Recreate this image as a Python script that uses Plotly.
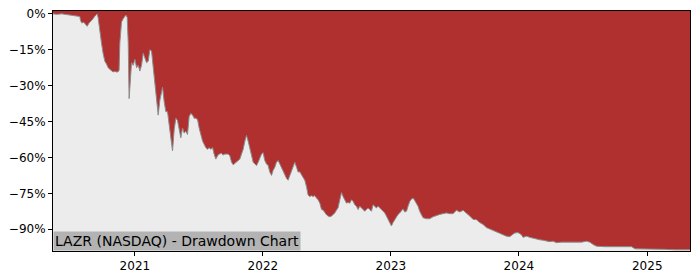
import pandas as pd
import plotly.graph_objects as go

# Time in decimal years, drawdown in percent
t_years = [
    2020.362, 2020.391, 2020.430, 2020.461, 2020.492, 2020.531, 2020.571, 2020.576,
    2020.586, 2020.602, 2020.617, 2020.628, 2020.641, 2020.656, 2020.674, 2020.688,
    2020.706, 2020.713, 2020.721, 2020.731, 2020.740, 2020.752, 2020.766, 2020.779,
    2020.792, 2020.805, 2020.818, 2020.831, 2020.844, 2020.857, 2020.870, 2020.877,
    2020.883, 2020.896, 2020.909, 2020.922, 2020.930, 2020.940, 2020.948, 2020.955,
    2020.965, 2020.974, 2020.987, 2021.000, 2021.013, 2021.026, 2021.039, 2021.052,
    2021.065, 2021.078, 2021.091, 2021.104, 2021.117, 2021.130, 2021.143, 2021.156,
    2021.169, 2021.182, 2021.195, 2021.208, 2021.216, 2021.229, 2021.242, 2021.255,
    2021.268, 2021.281, 2021.294, 2021.307, 2021.320, 2021.333, 2021.346, 2021.359,
    2021.372, 2021.385, 2021.398, 2021.411, 2021.424, 2021.437, 2021.451, 2021.463,
    2021.476, 2021.490, 2021.502, 2021.515, 2021.529, 2021.541, 2021.554, 2021.568,
    2021.580, 2021.593, 2021.607, 2021.619, 2021.632, 2021.646, 2021.658, 2021.677,
    2021.689, 2021.703, 2021.729, 2021.742, 2021.755, 2021.768, 2021.781, 2021.794,
    2021.807, 2021.820, 2021.833, 2021.846, 2021.859, 2021.872, 2021.885, 2021.898,
    2021.911, 2021.924, 2021.937, 2021.950, 2021.963, 2021.976, 2021.989, 2022.002,
    2022.015, 2022.028, 2022.041, 2022.054, 2022.067, 2022.080, 2022.093, 2022.106,
    2022.119, 2022.132, 2022.145, 2022.158, 2022.171, 2022.185, 2022.197, 2022.210,
    2022.224, 2022.236, 2022.249, 2022.263, 2022.275, 2022.288, 2022.302, 2022.314,
    2022.327, 2022.341, 2022.353, 2022.366, 2022.380, 2022.392, 2022.405, 2022.419,
    2022.431, 2022.445, 2022.458, 2022.470, 2022.484, 2022.497, 2022.509, 2022.523,
    2022.536, 2022.548, 2022.562, 2022.575, 2022.587, 2022.601, 2022.614, 2022.626,
    2022.640, 2022.653, 2022.666, 2022.679, 2022.692, 2022.705, 2022.718, 2022.731,
    2022.744, 2022.757, 2022.770, 2022.783, 2022.796, 2022.809, 2022.822, 2022.835,
    2022.848, 2022.861, 2022.874, 2022.887, 2022.900, 2022.913, 2022.926, 2022.939,
    2022.952, 2022.965, 2022.978, 2022.991, 2023.004, 2023.017, 2023.030, 2023.043,
    2023.056, 2023.069, 2023.082, 2023.095, 2023.108, 2023.122, 2023.134, 2023.147,
    2023.161, 2023.173, 2023.186, 2023.200, 2023.212, 2023.225, 2023.239, 2023.251,
    2023.278, 2023.303, 2023.329, 2023.356, 2023.382, 2023.407, 2023.434, 2023.460,
    2023.485, 2023.512, 2023.538, 2023.564, 2023.590, 2023.616, 2023.642, 2023.668,
    2023.694, 2023.720, 2023.746, 2023.772, 2023.798, 2023.824, 2023.850, 2023.876,
    2023.902, 2023.928, 2023.954, 2023.967, 2023.993, 2024.020, 2024.032, 2024.059,
    2024.084, 2024.110, 2024.137, 2024.162, 2024.188, 2024.215, 2024.240, 2024.266,
    2024.293, 2024.332, 2024.371, 2024.410, 2024.449, 2024.488, 2024.527, 2024.553,
    2024.579, 2024.605, 2024.670, 2024.735, 2024.800, 2024.852, 2024.878, 2024.904,
    2024.957, 2025.008, 2025.060, 2025.138, 2025.217, 2025.269, 2025.334,
]

drawdown_pct = [
    0.0, -0.2, 0.0, -0.3, -0.6, -1.0, -1.1, -2.7,
    -3.8, -3.5, -4.6, -5.2, -4.0, -3.2, -2.0, -1.0,
    0.0, -1.4, -5.5, -9.0, -12.3, -16.4, -19.8, -21.0,
    -22.5, -23.2, -23.9, -24.3, -24.0, -24.3, -24.2, -23.5,
    -12.0, -3.4, -2.0, -1.2, -0.5, -1.5, -12.0, -35.4,
    -26.0, -20.4, -21.5, -19.0, -22.5, -21.5, -23.9, -21.5,
    -16.4, -18.4, -20.4, -19.8, -15.0, -15.5, -21.8, -30.0,
    -36.1, -42.3, -36.1, -32.0, -30.7, -36.8, -40.9, -40.9,
    -46.3, -51.8, -57.3, -48.4, -43.6, -44.6, -49.1, -51.8,
    -47.7, -49.8, -49.1, -50.4, -42.9, -41.6, -42.3, -43.6,
    -43.6, -44.3, -47.7, -51.1, -53.2, -54.5, -55.9, -56.6,
    -55.9, -56.6, -55.9, -58.6, -60.7, -59.3, -58.6, -58.3,
    -59.0, -58.6, -58.6, -59.3, -62.0, -63.1, -62.4, -62.0,
    -61.3, -60.7, -58.6, -56.6, -53.2, -50.8, -53.2, -55.9,
    -59.3, -62.0, -62.7, -63.4, -62.0, -60.0, -58.6, -58.0,
    -61.3, -62.7, -63.4, -66.1, -67.5, -65.4, -64.1, -62.0,
    -61.3, -62.7, -64.1, -66.1, -67.5, -68.8, -69.5, -67.5,
    -65.4, -64.1, -62.0, -64.1, -66.1, -66.0, -67.5, -68.8,
    -69.5, -72.3, -75.7, -76.3, -76.0, -76.3, -76.0, -77.0,
    -77.7, -79.1, -81.8, -82.0, -83.2, -84.0, -84.5, -84.8,
    -84.5, -84.0, -83.2, -82.0, -81.1, -77.7, -74.7, -76.3,
    -77.7, -79.1, -78.8, -79.1, -77.7, -78.4, -79.8, -80.4,
    -81.8, -80.4, -81.1, -81.8, -82.5, -81.8, -81.1, -81.8,
    -82.5, -79.8, -80.4, -81.1, -80.4, -81.1, -81.8, -82.5,
    -83.2, -84.5, -85.9, -87.2, -88.6, -87.2, -85.9, -85.2,
    -83.8, -83.2, -82.5, -81.5, -82.8, -82.5, -80.4, -78.4,
    -77.4, -77.0, -78.0, -79.1, -80.4, -82.5, -84.2, -85.2,
    -85.6, -85.6, -84.8, -84.2, -83.8, -83.5, -83.2, -83.5,
    -83.5, -82.1, -82.8, -82.1, -83.2, -84.5, -85.9, -86.0,
    -87.2, -88.0, -89.3, -90.0, -90.6, -91.1, -91.7, -92.3,
    -92.9, -93.1, -92.3, -91.6, -91.4, -92.3, -93.4, -92.9,
    -93.4, -93.8, -94.1, -94.4, -94.6, -95.0, -95.2, -95.0,
    -95.6, -95.4, -95.4, -95.6, -95.6, -95.4, -95.0, -95.4,
    -96.4, -97.1, -97.3, -97.3, -97.3, -97.1, -97.3, -98.2,
    -98.2, -98.4, -98.4, -98.4, -98.6, -98.6, -98.6,
]

y_ticks = [0, -15, -30, -45, -60, -75, -90]
y_tick_labels = ["0%", "\u221215%", "\u221230%", "\u221245%", "\u221260%", "\u221275%", "\u221290%"]
x_tick_years = [2021, 2022, 2023, 2024, 2025]
title_text = "LAZR (NASDAQ) - Drawdown Chart"

Y_MIN, Y_MAX = -99.1, 1.2


def year_to_date(y):
    yr = int(y)
    start = pd.Timestamp(year=yr, month=1, day=1)
    end = pd.Timestamp(year=yr + 1, month=1, day=1)
    return start + (end - start) * (y - yr)


dates = [year_to_date(v) for v in t_years]

RED = "#b03030"
BG = "#ececec"

fig = go.Figure()
fig.add_trace(go.Scatter(
    x=dates, y=[Y_MAX] * len(dates), mode="lines",
    line=dict(width=0, color=RED), hoverinfo="skip", showlegend=False,
))
fig.add_trace(go.Scatter(
    x=dates, y=drawdown_pct, mode="lines", fill="tonexty",
    fillcolor=RED, line=dict(color="#8c8c8c", width=1),
    showlegend=False,
))

fig.add_annotation(
    x=0, y=0, xref="paper", yref="paper", xanchor="left", yanchor="bottom",
    text=title_text, showarrow=False, bgcolor="#b3b3b3", borderpad=1,
    font=dict(family="DejaVu Sans", size=14, color="#000000"),
)

fig.update_layout(
    width=700, height=280,
    margin=dict(l=53, r=10, t=7, b=28),
    paper_bgcolor="white", plot_bgcolor=BG,
    font=dict(family="DejaVu Sans", size=12, color="#000000"),
    showlegend=False,
)
fig.update_xaxes(
    range=[dates[0], dates[-1]],
    tickvals=[pd.Timestamp(year=y, month=1, day=1) for y in x_tick_years],
    ticktext=[str(y) for y in x_tick_years],
    ticks="outside", ticklen=4, tickcolor="black", tickwidth=1,
    showgrid=False, zeroline=False,
    showline=True, linecolor="black", linewidth=1, mirror=True,
)
fig.update_yaxes(
    range=[Y_MIN, Y_MAX],
    tickvals=y_ticks, ticktext=y_tick_labels,
    ticks="outside", ticklen=4, tickcolor="black", tickwidth=1,
    showgrid=False, zeroline=False,
    showline=True, linecolor="black", linewidth=1, mirror=True,
)

fig.write_html("out.html")
